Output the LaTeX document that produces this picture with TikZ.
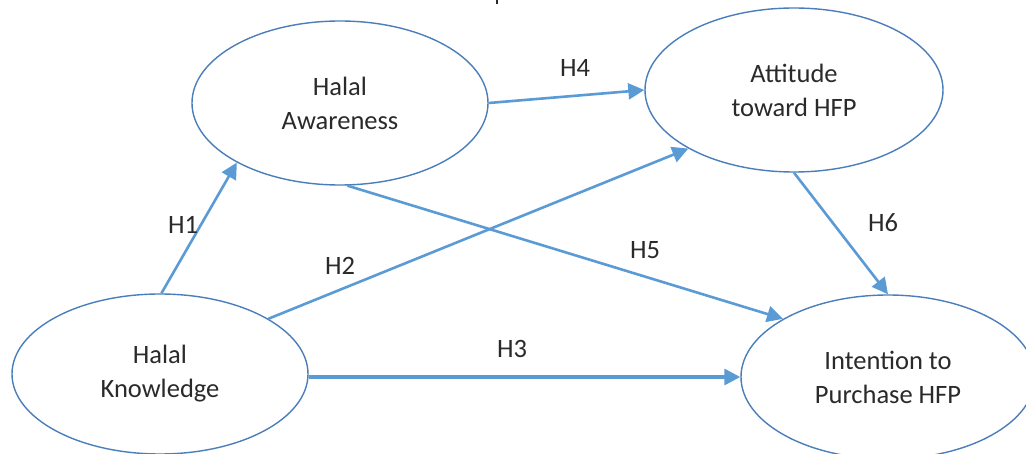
\documentclass[tikz,border=0pt]{standalone}
\usepackage{fontspec}
\setmainfont{Carlito}
\usetikzlibrary{shapes.geometric,arrows.meta}
\definecolor{ellblue}{HTML}{4A7EBB}
\definecolor{arrblue}{HTML}{5B9BD5}
\definecolor{txt}{HTML}{2A2A2A}
\begin{document}
\begin{tikzpicture}[x=1pt,y=-1pt,
  construct/.style={ellipse, draw=ellblue, line width=1.4pt, fill=white,
    minimum width=296pt, minimum height=164pt, inner sep=0pt, align=center,
    font=\fontsize{26.5}{34}\selectfont, text=txt},
  hyp/.style={draw=arrblue, line width=2.6pt,
    -{Triangle[length=16pt,width=16pt]}},
  hlabel/.style={font=\fontsize{26.5}{30}\selectfont, text=txt, inner sep=0pt}]
\clip (0,0) rectangle (1026,454);
\fill[white] (0,0) rectangle (1026,454);
% fragment at top edge
\draw[txt, line width=1.5pt] (497,0) -- (497,4);
% constructs
\node[construct] (aw) at (340,103) {Halal\\Awareness};
\node[construct, minimum width=298pt] (at) at (794,90) {Attitude\\toward HFP};
\node[construct, minimum height=160pt] (kn) at (160,374) {Halal\\Knowledge};
\node[construct, minimum width=294pt] (in) at (888,377) {Intention to\\Purchase HFP};
% hypotheses
\draw[hyp] (kn.89) -- (aw.210);
\draw[hyp] (kn.27) -- (at.209);
\draw[hyp, line width=3.2pt] (kn.east |- in.west) -- (in.west);
\draw[hyp] (aw.0) -- (at.180);
\draw[hyp] (aw.275) -- (in.151);
\draw[hyp] (at.south) -- (in.north);
% labels
\node[hlabel] (h1) at (183,225) {H1};
\node[hlabel] (h2) at (340,266) {H2};
\node[hlabel] (h3) at (512,349) {H3};
\node[hlabel] (h4) at (575,68) {H4};
\node[hlabel] (h5) at (645,250) {H5};
\node[hlabel] (h6) at (883,223) {H6};
\end{tikzpicture}
\end{document}
